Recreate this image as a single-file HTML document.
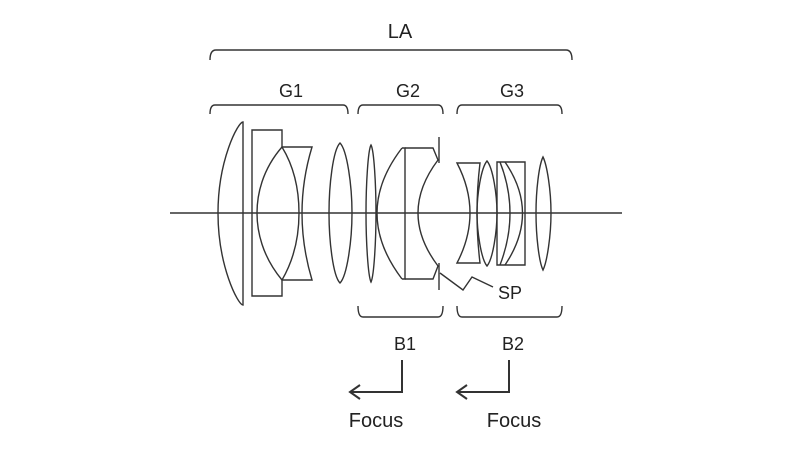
<!DOCTYPE html>
<html><head><style>body{margin:0;background:#fff}svg{display:block}</style></head><body>
<svg width="800" height="450" viewBox="0 0 800 450" xmlns="http://www.w3.org/2000/svg" font-family="Liberation Sans, sans-serif" fill="none" stroke="#333" stroke-width="1.4">
<g fill="#222" stroke="none">
<text x="400" y="38" font-size="20" text-anchor="middle">LA</text>
<text x="291" y="97" font-size="18" text-anchor="middle">G1</text>
<text x="408" y="97" font-size="18" text-anchor="middle">G2</text>
<text x="512" y="97" font-size="18" text-anchor="middle">G3</text>
<text x="498" y="299" font-size="18">SP</text>
<text x="405" y="350" font-size="18" text-anchor="middle">B1</text>
<text x="513" y="350" font-size="18" text-anchor="middle">B2</text>
<text x="376" y="427" font-size="20" text-anchor="middle">Focus</text>
<text x="514" y="427" font-size="20" text-anchor="middle">Focus</text>
</g>
<path d="M210,60 Q210,50 216,50 H566 Q572,50 572,60"/>
<path d="M210,114 Q210,105 215,105 H343 Q348,105 348,114"/>
<path d="M358,114 Q358,105 363,105 H438 Q443,105 443,114"/>
<path d="M457,114 Q457,105 462,105 H557 Q562,105 562,114"/>
<path d="M358,306 Q358,317 363,317 H438 Q443,317 443,306"/>
<path d="M457,306 Q457,317 462,317 H557 Q562,317 562,306"/>
<line x1="170" y1="213" x2="622" y2="213"/>
<!-- G1 -->
<path d="M243,122 C238,122 218,160 218,213 C218,266 238,305 243,305 Z"/>
<path d="M282,147 V130 H252 V296 H282 V280"/>
<path d="M282,147 C262,170 257,195 257,213 C257,231 262,256 282,280 C296,256 299,231 299,213 C299,195 296,170 282,147 Z"/>
<path d="M282,147 H312 Q292,213 312,280 H282"/>
<path d="M340,143 C333,150 329,185 329,213 C329,241 333,276 340,283 C347,276 352,241 352,213 C352,185 347,150 340,143 Z"/>
<!-- G2 -->
<path d="M371,145 C368,150 366,185 366,213 C366,241 368,276 371,282 C374,276 376,241 376,213 C376,185 374,150 371,145 Z"/>
<path d="M402,148 Q352,213 402,279"/>
<path d="M402,148 H405 V279 H402"/>
<path d="M405,148 H433 L438,160 Q398,213 438,266 L433,279 H405"/>
<line x1="439" y1="137" x2="439" y2="163"/>
<line x1="439" y1="263" x2="439" y2="290"/>
<path d="M440,273 L463,290 L472,277 L493,287"/>
<!-- G3 -->
<path d="M457,163 H480 Q474,213 480,263 H457 Q483,213 457,163 Z"/>
<path d="M487,161 C481,168 477,195 477,213 C477,231 481,259 487,266 C493,259 497,231 497,213 C497,195 493,168 487,161 Z"/>
<path d="M497,162 H525 V265 H497 Z"/>
<path d="M505,162 Q540,213 505,265"/>
<path d="M500,162 Q520,213 500,265"/>
<path d="M543,157 C539,165 536,190 536,213 C536,236 539,262 543,270 C547,262 551,236 551,213 C551,190 547,165 543,157 Z"/>
<path d="M402,360 V392 H350" stroke-width="2"/>
<path d="M360,385 L350,392 L360,399" stroke-width="2"/>
<path d="M509,360 V392 H457" stroke-width="2"/>
<path d="M467,385 L457,392 L467,399" stroke-width="2"/>
</svg>
</body></html>
